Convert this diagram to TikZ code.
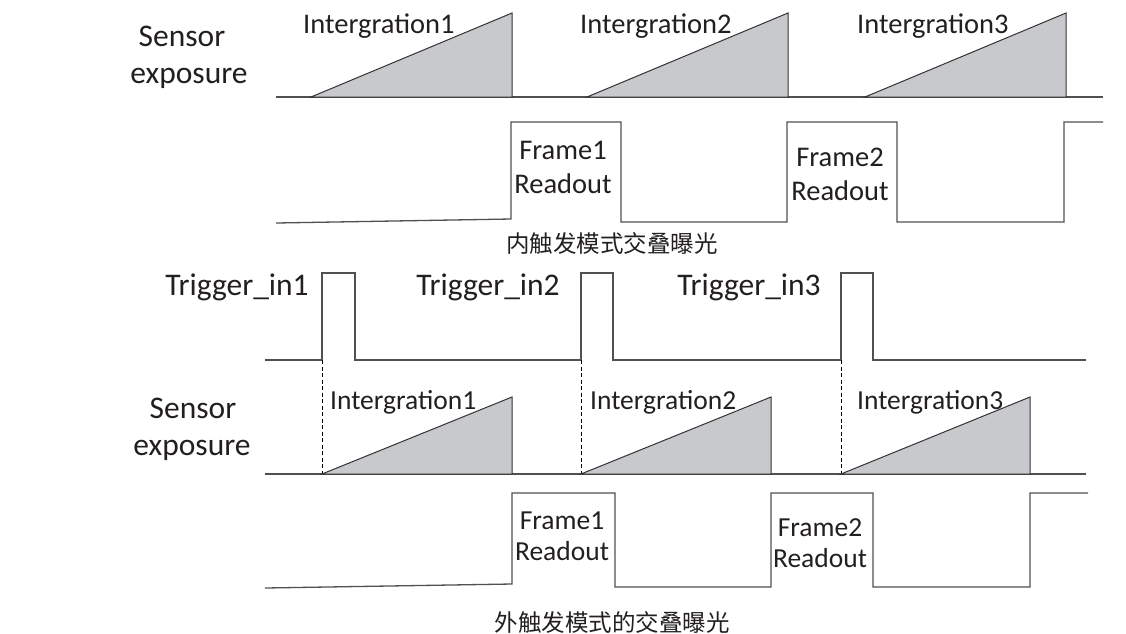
\documentclass[tikz,border=0pt]{standalone}
\usepackage{fontspec}
\setmainfont{Carlito}
\newfontfamily\cjk{Noto Sans CJK SC}
\definecolor{waveclr}{RGB}{80,80,80}
\definecolor{rampfill}{RGB}{200,201,204}
\definecolor{txtclr}{RGB}{35,31,32}
\begin{document}
\begin{tikzpicture}[x=1pt,y=-1pt,
  wave/.style={draw=waveclr,line width=1.3pt,line join=miter},
  ramp/.style={fill=rampfill,draw=black!80,line width=1pt,line join=miter},
  guide/.style={draw=black,line width=0.8pt,dash pattern=on 4pt off 2.5pt},
  biglbl/.style={font=\fontsize{31.5}{36}\selectfont,inner sep=0pt,anchor=base,text=txtclr},
  intlbl/.style={font=\fontsize{28.5}{33}\selectfont,inner sep=0pt,anchor=base west,text=txtclr},
  intlblb/.style={font=\fontsize{27.5}{32}\selectfont,inner sep=0pt,anchor=base west,text=txtclr},
  frmlbl/.style={font=\fontsize{28.5}{33}\selectfont,inner sep=0pt,anchor=base,text=txtclr},
  frmlblb/.style={font=\fontsize{27.5}{32}\selectfont,inner sep=0pt,anchor=base,text=txtclr},
  caplbl/.style={font=\cjk\fontsize{23.5}{28}\selectfont,inner sep=0pt,anchor=base,text=txtclr}]
\useasboundingbox (0,0) rectangle (1126,633);
\fill[white] (0,0) rectangle (1126,633);

% ===== Top: internal trigger =====
\node[biglbl] (s1) at (182,46) {Sensor};
\node[biglbl] (e1) at (189,83) {exposure};
\draw[wave] (276,97) -- (1103,97);
\filldraw[ramp] (311,97) -- (512,13) -- (512,97) -- cycle;
\filldraw[ramp] (587,97) -- (788,13) -- (788,97) -- cycle;
\filldraw[ramp] (865,97) -- (1066,13) -- (1066,97) -- cycle;
\node[intlbl] (i1) at (303,33) {Intergration1};
\node[intlbl] (i2) at (580,33) {Intergration2};
\node[intlbl] (i3) at (857,33) {Intergration3};

\draw[wave] (276,223) -- (511,219) -- (511,122) -- (621,122) -- (621,222)
  -- (787,222) -- (787,122) -- (897,122) -- (897,222) -- (1064,222)
  -- (1064,122) -- (1103,122);
\node[frmlbl] (f1) at (563,159) {Frame1};
\node[frmlbl] (r1) at (563,193) {Readout};
\node[frmlbl] (f2) at (840,166) {Frame2};
\node[frmlbl] (r2) at (840,200) {Readout};
\node[caplbl] (c1) at (612,252) {内触发模式交叠曝光};

% ===== Bottom: external trigger =====
\node[biglbl] (t1) at (237,295) {Trigger\_in1};
\node[biglbl] (t2) at (488,295) {Trigger\_in2};
\node[biglbl] (t3) at (749,295) {Trigger\_in3};
\draw[wave] (265,360) -- (322,360) -- (322,273) -- (355,273) -- (355,360)
  -- (581,360) -- (581,273) -- (613,273) -- (613,360)
  -- (841,360) -- (841,273) -- (873,273) -- (873,360) -- (1086,360);

\node[biglbl] (s2) at (193,418) {Sensor};
\node[biglbl] (e2) at (192,455) {exposure};
\draw[wave] (265,474) -- (1086,474);
\draw[guide] (322,360) -- (322,474);
\draw[guide] (581,360) -- (581,474);
\draw[guide] (841,360) -- (841,474);
\filldraw[ramp] (322,474) -- (512,397) -- (512,474) -- cycle;
\filldraw[ramp] (581,474) -- (771,397) -- (771,474) -- cycle;
\filldraw[ramp] (841,474) -- (1030,397) -- (1030,474) -- cycle;
\node[intlblb] (j1) at (330,409) {Intergration1};
\node[intlblb] (j2) at (590,409) {Intergration2};
\node[intlblb] (j3) at (857,409) {Intergration3};

\draw[wave] (265,588) -- (512,584) -- (512,493) -- (615,493) -- (615,587)
  -- (771,587) -- (771,493) -- (873,493) -- (873,587) -- (1030,587)
  -- (1030,493) -- (1088,493);
\node[frmlblb] (g1) at (562,529) {Frame1};
\node[frmlblb] (q1) at (562,560) {Readout};
\node[frmlblb] (g2) at (820,536) {Frame2};
\node[frmlblb] (q2) at (820,567) {Readout};
\node[caplbl] (c2) at (612,631) {外触发模式的交叠曝光};
\end{tikzpicture}
\end{document}
